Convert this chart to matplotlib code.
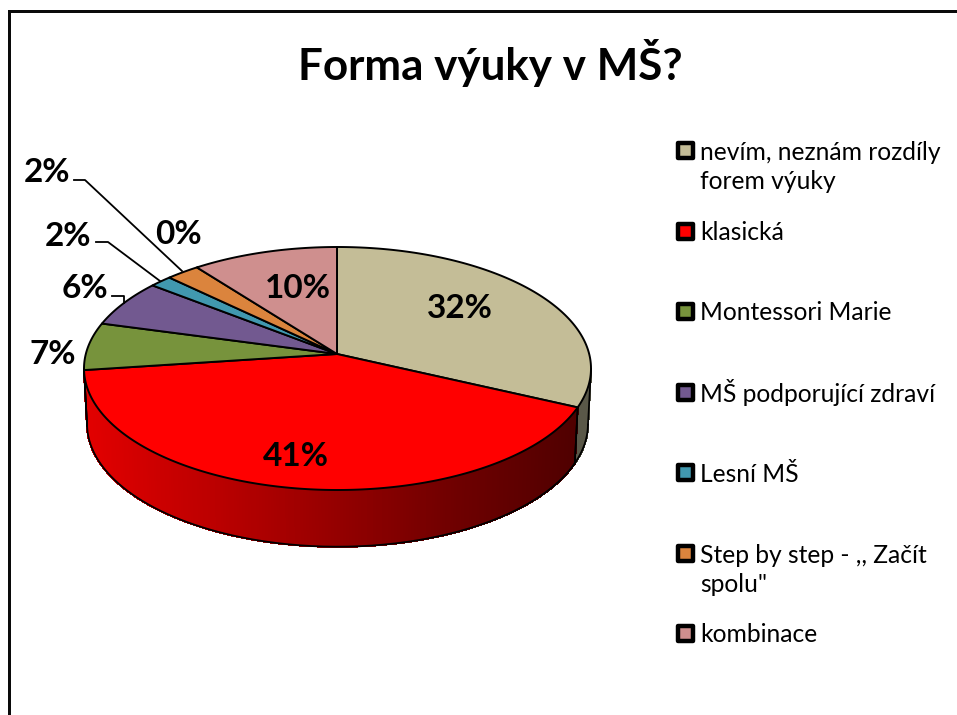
import numpy as np
import matplotlib
matplotlib.use("Agg")
import matplotlib.pyplot as plt
from matplotlib.patches import Polygon, Rectangle
from matplotlib.collections import PolyCollection
from matplotlib.colors import LinearSegmentedColormap

plt.rcParams['font.family'] = ['Lato', 'DejaVu Sans']

title = "Forma výuky v MŠ?"
categories = ["nevím, neznám rozdíly\nforem výuky", "klasická", "Montessori Marie",
              "MŠ podporující zdraví", "Lesní MŠ", "Step by step - ,, Začít\nspolu\"", "kombinace"]
values = [31.9, 41.0, 6.3, 6.3, 1.6, 2.4, 10.5]
value_labels = ["32%", "41%", "7%", "6%", "2%", "2%", "10%"]
extra_label = "0%"
colors = ["#C4BD97", "#FF0000", "#77933C", "#725990", "#4198AF", "#DB843D", "#CF8F8E"]

# geometry (pixels)
CX, CY, RX, RY = 337.5, 368.5, 253.5, 121.5
AX_, AY_ = 337.0, 354.0
DEPTH = 55.5
label_pos = [(460, 309), (296, 456), (53, 354), (85, 289), (47, 173), (68, 236), (298, 289)]
extra_pos = (178, 235)
legend_y = [150, 231, 311, 392, 472, 553, 633]
legend_text_y = [167, 232, 313, 393, 474, 570, 635]

fig = plt.figure(figsize=(9.57, 7.15), dpi=100)
ax = fig.add_axes([0, 0, 1, 1])
ax.set_xlim(0, 957)
ax.set_ylim(715, 0)
ax.axis("off")


def rim(theta):
    """Ray from the apex in direction theta (clockwise from 12 o'clock) to the rim ellipse."""
    dx, dy = RX * np.sin(theta), -RY * np.cos(theta)
    ox, oy = (AX_ - CX) / RX, (AY_ - CY) / RY
    ux, uy = dx / RX, dy / RY
    a = ux**2 + uy**2
    b = 2 * (ox * ux + oy * uy)
    c = ox**2 + oy**2 - 1
    t = (-b + np.sqrt(b**2 - 4 * a * c)) / (2 * a)
    return AX_ + t * dx, AY_ + t * dy


def wall(x, y):
    return CX + (x - CX) * 0.988, CY + DEPTH + (y - CY) * 1.01


edges = np.cumsum([0] + values) / sum(values) * 2 * np.pi
red_map = LinearSegmentedColormap.from_list("side", [(0, "#E20000"), (0.35, "#AE0000"), (0.75, "#700000"), (1, "#500000")])
side_shade = ["#5A5848", None, None, None, None, None, None]

# side walls
for i, col in enumerate(colors):
    th = np.linspace(edges[i], edges[i + 1], 240)
    x, y = rim(th)
    keep = y >= CY
    if keep.sum() < 2:
        continue
    x, y = x[keep], y[keep]
    bx, by = wall(x, y)
    quads = [[(x[k], y[k]), (x[k + 1], y[k + 1]), (bx[k + 1], by[k + 1]), (bx[k], by[k])] for k in range(len(x) - 1)]
    if side_shade[i]:
        fc = [side_shade[i]] * len(quads)
    else:
        fc = [red_map((x[k] - 85) / 490) for k in range(len(x) - 1)]
    ax.add_collection(PolyCollection(quads, facecolors=fc, edgecolors=fc, linewidths=1.0, antialiaseds=False, zorder=2))
    ax.plot(bx, by, color="black", lw=1.3, zorder=3)
    ax.plot([x[0], bx[0]], [y[0], by[0]], color="black", lw=1.2, zorder=3)
    ax.plot([x[-1], bx[-1]], [y[-1], by[-1]], color="black", lw=1.2, zorder=3)

# top slices
for i, col in enumerate(colors):
    th = np.linspace(edges[i], edges[i + 1], 200)
    x, y = rim(th)
    pts = np.column_stack([np.r_[AX_, x], np.r_[AY_, y]])
    ax.add_patch(Polygon(pts, closed=True, facecolor=col, edgecolor="black", lw=1.4, joinstyle="round", zorder=4))

# data labels
for (px, py), s in zip(label_pos, value_labels):
    ax.text(px, py, s, fontsize=24, fontweight="bold", ha="center", va="center", color="black", zorder=6)
ax.text(extra_pos[0], extra_pos[1], extra_label, fontsize=24, fontweight="bold", ha="center", va="center", color="black", zorder=6)

# leader lines
for xs, ys in [([74, 85, 182], [180, 180, 271]),
               ([96, 108, 160], [242, 242, 281]),
               ([112, 124, 124], [296, 296, 303])]:
    ax.plot(xs, ys, color="black", lw=1.3, zorder=5)

# title
ax.text(490, 63, title, fontsize=31.7, fontweight="bold", ha="center", va="center", color="black")

# legend
for yc, ty, name, col in zip(legend_y, legend_text_y, categories, colors):
    ax.add_patch(Rectangle((678, yc - 7.5), 15, 15, facecolor=col, edgecolor="black", lw=3.2, joinstyle="round", zorder=5))
    ax.text(700, ty, name, fontsize=17.7, ha="left", va="center", color="black", linespacing=1.28)

# frame
ax.add_patch(Rectangle((8, 10), 949, 2.5, facecolor="#0a0a0a", edgecolor="none", zorder=7))
ax.add_patch(Rectangle((8, 10), 3.2, 705, facecolor="#0a0a0a", edgecolor="none", zorder=7))

fig.savefig("out.png", dpi=100)
